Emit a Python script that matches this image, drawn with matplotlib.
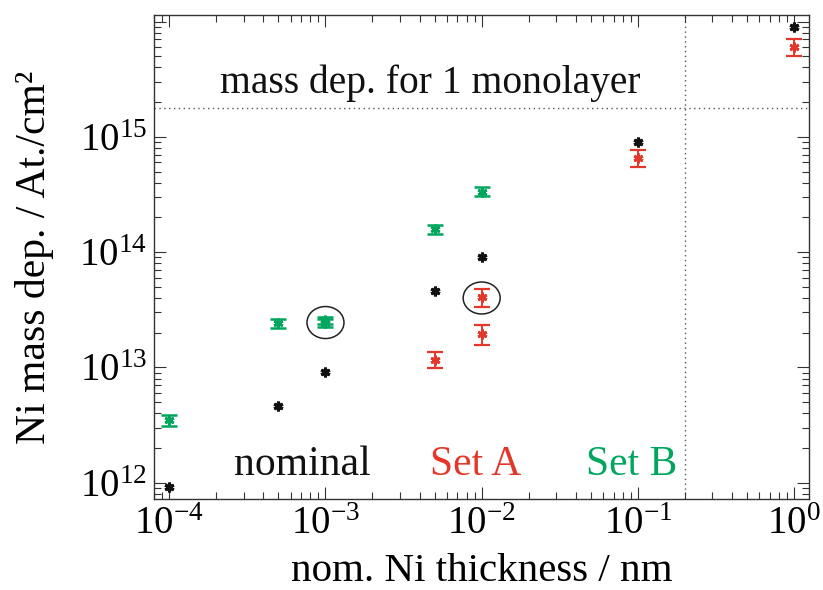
import numpy as np
import matplotlib
matplotlib.use("Agg")
import matplotlib.pyplot as plt
from matplotlib.patches import Ellipse
from matplotlib.transforms import ScaledTranslation
from matplotlib.ticker import FixedLocator, FixedFormatter, LogLocator, NullFormatter

plt.rcParams['font.family'] = ['Liberation Serif', 'DejaVu Serif']
plt.rcParams['mathtext.fontset'] = 'custom'
plt.rcParams['mathtext.rm'] = 'Liberation Serif'
plt.rcParams['mathtext.it'] = 'Liberation Serif:italic'
plt.rcParams['mathtext.bf'] = 'Liberation Serif:bold'

# ---- data ----
nominal_x = [1e-4, 5e-4, 1e-3, 5e-3, 1e-2, 1e-1, 1.0]
nominal_y = [9.1e11, 4.6e12, 9.2e12, 4.6e13, 9.1e13, 9.06e14, 9.04e15]

setA_x = [5e-3, 1e-2, 1e-2, 1e-1, 1.0]
setA_y = [1.17e13, 4.05e13, 1.95e13, 6.56e14, 6.05e15]
setA_err = [0.19e13, 0.72e13, 0.40e13, 1.1e14, 1.0e15]

setB_x = [1e-4, 5e-4, 1e-3, 1e-3, 5e-3, 1e-2]
setB_y = [3.49e12, 2.41e13, 2.58e13, 2.43e13, 1.58e14, 3.34e14]
setB_err = [0.36e12, 0.22e13, 0.18e13, 0.18e13, 0.15e14, 0.30e14]

circled_x = [1e-3, 1e-2]
circled_y = [2.45e13, 4.0e13]

monolayer_mass = 1.79e15
monolayer_thickness = 0.2

x_ticks = [1e-4, 1e-3, 1e-2, 1e-1, 1.0]
x_ticklabels = [r'$\mathdefault{10^{-4}}$', r'$\mathdefault{10^{-3}}$',
                r'$\mathdefault{10^{-2}}$', r'$\mathdefault{10^{-1}}$',
                r'$\mathdefault{10^{0}}$']
y_ticks = [1e12, 1e13, 1e14, 1e15, 1e16]
y_ticklabels = [r'$\mathdefault{10^{12}}$', r'$\mathdefault{10^{13}}$',
                r'$\mathdefault{10^{14}}$', r'$\mathdefault{10^{15}}$', '']

xlim = (7.98e-5, 1.247)
ylim = (7.26e11, 1.14e16)

RED = '#E2372A'
GREEN = '#00A65E'
BLACK = '#111111'

fig = plt.figure(figsize=(8.23, 5.90), dpi=100)
ax = fig.add_axes([0.1871, 0.1547, 0.7959, 0.8199])
ax.set_xscale('log')
ax.set_yscale('log')
ax.set_xlim(*xlim)
ax.set_ylim(*ylim)

ast = (6, 2, 0)
ax.axhline(monolayer_mass, color='#555555', lw=1.0, ls=(0, (1, 2.5)), zorder=1)
ax.axvline(monolayer_thickness, color='#555555', lw=1.0, ls=(0, (1, 2.5)), zorder=1)

ax.errorbar(setB_x, setB_y, yerr=setB_err, fmt='none', ecolor=GREEN,
            elinewidth=1.6, capsize=6, capthick=1.8, zorder=3)
ax.plot(setB_x, setB_y, ls='none', marker=ast, ms=7, mew=2.0, color=GREEN, zorder=4)

ax.errorbar(setA_x, setA_y, yerr=setA_err, fmt='none', ecolor=RED,
            elinewidth=1.4, capsize=6, capthick=1.6, zorder=3)
ax.plot(setA_x, setA_y, ls='none', marker=ast, ms=7, mew=2.0, color=RED, zorder=4)

ax.plot(nominal_x, nominal_y, ls='none', marker=ast, ms=7, mew=2.2, color=BLACK, zorder=5)

for cx, cy in zip(circled_x, circled_y):
    e = Ellipse((0, 0), width=0.37, height=0.32, fill=False, ec='#222222', lw=1.1,
                transform=fig.dpi_scale_trans + ScaledTranslation(cx, cy, ax.transData),
                zorder=6)
    ax.add_patch(e)

ax.text(0.422, 0.839, 'mass dep. for 1 monolayer', transform=ax.transAxes,
        ha='center', va='baseline', fontsize=28.5, color=BLACK)
ax.text(0.2267, 0.049, 'nominal', transform=ax.transAxes, ha='center',
        va='baseline', fontsize=30, color=BLACK)
ax.text(0.4908, 0.049, 'Set A', transform=ax.transAxes, ha='center',
        va='baseline', fontsize=30, color=RED)
ax.text(0.7286, 0.049, 'Set B', transform=ax.transAxes, ha='center',
        va='baseline', fontsize=30, color=GREEN)

ax.xaxis.set_major_locator(FixedLocator(x_ticks))
ax.xaxis.set_major_formatter(FixedFormatter(x_ticklabels))
ax.yaxis.set_major_locator(FixedLocator(y_ticks))
ax.yaxis.set_major_formatter(FixedFormatter(y_ticklabels))
ax.xaxis.set_minor_locator(LogLocator(base=10, subs=np.arange(2, 10), numticks=20))
ax.yaxis.set_minor_locator(LogLocator(base=10, subs=np.arange(2, 10), numticks=20))
ax.xaxis.set_minor_formatter(NullFormatter())
ax.yaxis.set_minor_formatter(NullFormatter())

ax.tick_params(which='both', direction='in', top=True, right=True,
               color='#333333', width=0.8)
ax.tick_params(which='major', length=8.5, labelsize=28)
ax.tick_params(which='minor', length=5)
ax.tick_params(axis='y', which='major', pad=5)
ax.tick_params(axis='x', which='major', pad=5)

for s in ax.spines.values():
    s.set_linewidth(1.0)
    s.set_color('#333333')

ax.set_xlabel('nom. Ni thickness / nm', fontsize=29.5, va='baseline')
ax.xaxis.set_label_coords(0.5, -0.170)
ax.set_ylabel('Ni mass dep. / At./cm²', fontsize=30, va='baseline')
ax.yaxis.set_label_coords(-0.1664, 0.5)

fig.savefig('out.png', dpi=100)
